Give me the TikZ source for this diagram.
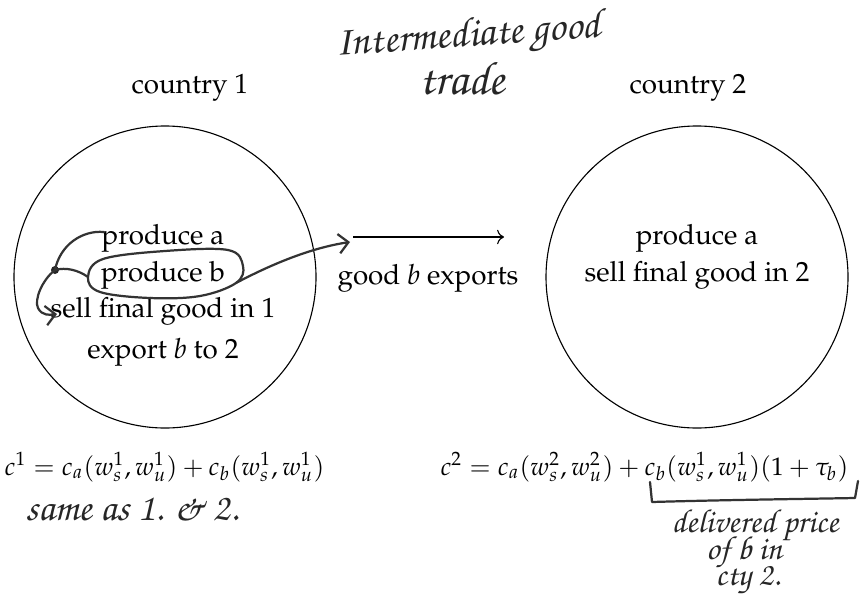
\documentclass[tikz,border=0pt]{standalone}
\usepackage[T1]{fontenc}
\usepackage{mathpazo}
\usetikzlibrary{arrows.meta}
\newcommand{\handfont}[1]{\fontfamily{pzc}\fontsize{#1}{#1}\selectfont}
\begin{document}
\begin{tikzpicture}[x=0.36pt,y=-0.36pt,
  thin line/.style={line width=0.4pt},
  txt/.style={inner sep=0pt},
  eqn/.style={inner sep=0pt, font=\fontsize{9.15}{11}\selectfont},
  hw/.style={inner sep=0pt, text=black!85},
  hand/.style={draw=black!80, line width=0.8pt, line cap=round, line join=round}]
\useasboundingbox (0,0) rectangle (860,602);

% handwritten title
\node[hw, rotate=4, font=\handfont{15}] (title1) at (468,38) {Intermediate good};
\node[hw, font=\handfont{17}] (title2) at (462,78) {trade};

% country labels
\node[txt] (c1) at (190,88) {country 1};
\node[txt] (c2) at (688,88) {country 2};

% circles
\node[draw, thin line, circle, minimum size=302*0.36pt, inner sep=0pt] (circ1) at (165,277) {};
\node[draw, thin line, circle, minimum size=302*0.36pt, inner sep=0pt] (circ2) at (697,277) {};

% country 1 text
\node[txt] (pa1) at (163,238) {produce a};
\node[txt] (pb1) at (163,275) {produce b};
\node[txt] (sf1) at (163,311) {sell final good in 1};
\node[txt] (ex1) at (163,352) {export \textit{b} to 2};

% country 2 text
\node[txt] (pa2) at (697,238) {produce a};
\node[txt] (sf2) at (697,275) {sell final good in 2};

% trade arrow
\coordinate (ta) at (353,237);
\coordinate (tb) at (504,237);
\draw[thin line, ->] (ta) -- (tb);
\node[txt] (gbe) at (428,278) {good \textit{b} exports};

% equations
\node[eqn, anchor=west] (eq1) at (4,467) {$c^1 = c_a(w_s^1, w_u^1) + c_b(w_s^1, w_u^1)$};
\node[eqn, anchor=east] (eq2) at (849,467) {$c^2 = c_a(w_s^2, w_u^2) + c_b(w_s^1, w_u^1)(1+\tau_b)$};

% handwritten notes
\node[hw, font=\handfont{14}] (same) at (132,509) {same as 1. \& 2.};
\node[hw, font=\handfont{12}] (dp1) at (755,526) {delivered price};
\node[hw, font=\handfont{12}] (dp2) at (744,553) {of b in};
\node[hw, font=\handfont{12}] (dp3) at (748,580) {cty 2.};

% handwritten bracket
\coordinate (br1) at (650,482);
\coordinate (br2) at (652,502);
\coordinate (br3) at (855,498);
\coordinate (br4) at (858,481);
\draw[hand] (br1) -- (br2) .. controls (720,500) and (800,499) .. (br3) -- (br4);

% handwritten loop and arrows in country 1
\coordinate (dot) at (55,270);
\coordinate (pastart) at (104,232);
\coordinate (sfend) at (57,314);
\coordinate (hb) at (350,242);
\fill[black!85] (dot) circle (4);
\draw[hand] plot[smooth cycle, tension=0.6] coordinates {(88,277) (103,259) (165,251) (228,250) (243,266) (236,283) (200,296) (150,298) (100,292)};
\draw[hand] (pastart) .. controls (82,230) and (60,245) .. (dot);
\draw[hand] (88,277) .. controls (78,270) and (66,267) .. (dot);
\draw[hand, -{Straight Barb[length=3.5pt,width=7pt]}] (dot) .. controls (42,280) and (34,300) .. (38,308) .. controls (42,316) and (50,315) .. (sfend);
\draw[hand, -{Straight Barb[length=3.5pt,width=7pt]}] (236,283) .. controls (270,265) and (310,248) .. (hb);
\end{tikzpicture}
\end{document}
